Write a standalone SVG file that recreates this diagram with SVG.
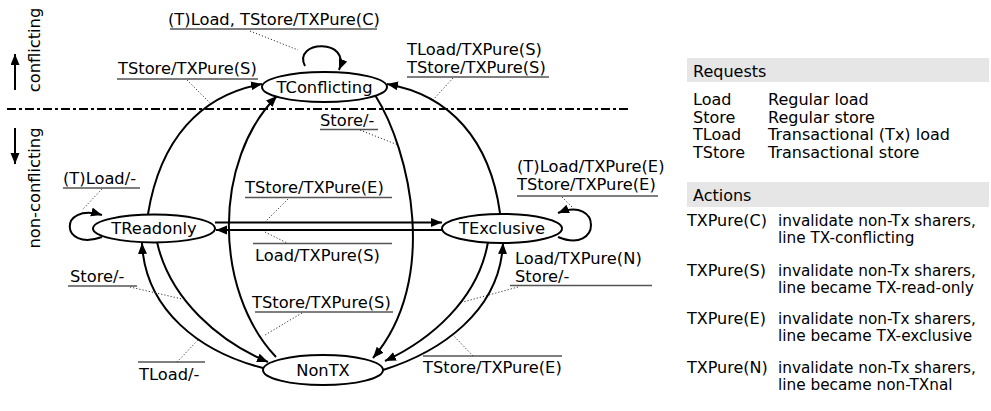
<svg xmlns="http://www.w3.org/2000/svg" width="991" height="411" viewBox="0 0 991 411">
<defs>
<marker id="ah" markerUnits="userSpaceOnUse" markerWidth="12" markerHeight="10" refX="11" refY="4.5" orient="auto">
<path d="M0,0 L11,4.5 L0,9 z" fill="#000"/>
</marker>
<style>
text{font-family:"DejaVu Sans","Liberation Sans",sans-serif;font-size:16.3px;fill:#000}
.node ellipse{fill:#fff;stroke:#000;stroke-width:2}
.node text{text-anchor:middle}
.edge{fill:none;stroke:#000;stroke-width:2;marker-end:url(#ah)}
.ul{stroke:#555;stroke-width:1.5}
.ld{stroke:#333;stroke-width:1;stroke-dasharray:1.2,2;fill:none}
.band{fill:#e6e6e6}
#legend text{font-size:16px}
#legend text.d{font-size:15.3px}
</style>
</defs>
<rect width="991" height="411" fill="#fff"/>

<g id="side">
<line x1="7" y1="109" x2="628" y2="109" stroke="#000" stroke-width="2" stroke-dasharray="9,3,3,3"/>
<text transform="translate(40,50) rotate(-90)" text-anchor="middle">conflicting</text>
<text transform="translate(40,188) rotate(-90)" text-anchor="middle">non-conflicting</text>
<line x1="15" y1="90" x2="15" y2="54" stroke="#000" stroke-width="2" marker-end="url(#ah)"/>
<line x1="15" y1="128" x2="15" y2="164" stroke="#000" stroke-width="2" marker-end="url(#ah)"/>
</g>

<g id="connectors">
<path class="edge" d="M305,66 C292,40 352,38 339,70"/>
<path class="edge" d="M148,214 C160,140 200,95 262,84"/>
<path class="edge" d="M276,357 C213,290 213,160 277,96"/>
<path class="edge" d="M375,95 C410,150 440,280 373,358"/>
<path class="edge" d="M500,213 C490,140 450,95 387,84"/>
<path class="edge" d="M157,242 C170,300 220,342 268,362"/>
<path class="edge" d="M263,368 C200,352 145,310 142,243"/>
<path class="edge" d="M488,242 C478,300 430,340 385,361"/>
<path class="edge" d="M383,370 C440,352 500,312 503,243"/>
<path class="edge" d="M215,222.5 L442,222.5"/>
<path class="edge" d="M442,230 L216,230"/>
<path class="edge" d="M102,237 C60,252 58,202 102,215"/>
<path class="edge" d="M558,237 C602,255 602,195 558,213"/>
</g>

<g id="labels">
<text x="168" y="25">(T)Load, TStore/TXPure(C)</text>
<line class="ul" x1="170" y1="29" x2="377" y2="29"/>
<line class="ld" x1="250" y1="31" x2="298" y2="50"/>

<text x="118" y="74">TStore/TXPure(S)</text>
<line class="ul" x1="117" y1="79" x2="258" y2="79"/>
<line class="ld" x1="187" y1="80" x2="210" y2="103"/>

<text x="407" y="55">TLoad/TXPure(S)</text>
<text x="407" y="73">TStore/TXPure(S)</text>
<line class="ul" x1="407" y1="77" x2="549" y2="77"/>
<line class="ld" x1="453" y1="78" x2="433" y2="100"/>

<text x="320" y="126">Store/-</text>
<line class="ul" x1="320" y1="129.5" x2="378" y2="129.5"/>
<line class="ld" x1="360" y1="130" x2="398" y2="145"/>

<text x="63" y="184">(T)Load/-</text>
<line class="ul" x1="63" y1="188" x2="140" y2="188"/>
<line class="ld" x1="102" y1="189" x2="82" y2="210"/>

<text x="245" y="193">TStore/TXPure(E)</text>
<line class="ul" x1="245" y1="197.5" x2="392" y2="197.5"/>
<line class="ld" x1="288" y1="199" x2="265" y2="222"/>

<text x="255" y="261">Load/TXPure(S)</text>
<line class="ul" x1="253" y1="243.5" x2="392" y2="243.5"/>
<line class="ld" x1="265" y1="232" x2="287" y2="243"/>

<text x="517" y="172">(T)Load/TXPure(E)</text>
<text x="517" y="190">TStore/TXPure(E)</text>
<line class="ul" x1="517" y1="196" x2="658" y2="196"/>
<line class="ld" x1="562" y1="197" x2="573" y2="208"/>

<text x="515" y="264">Load/TXPure(N)</text>
<text x="515" y="282">Store/-</text>
<line class="ul" x1="510" y1="285.5" x2="652" y2="285.5"/>
<line class="ld" x1="518" y1="287" x2="463" y2="302"/>

<text x="70" y="282">Store/-</text>
<line class="ul" x1="68" y1="286" x2="137" y2="286"/>
<line class="ld" x1="130" y1="287" x2="182" y2="299"/>

<text x="139" y="380">TLoad/-</text>
<line class="ul" x1="138" y1="362" x2="205" y2="362"/>
<line class="ld" x1="177" y1="362" x2="198" y2="340"/>

<text x="252" y="308">TStore/TXPure(S)</text>
<line class="ul" x1="255" y1="312" x2="393" y2="312"/>
<line class="ld" x1="302" y1="313" x2="265" y2="335"/>

<text x="423" y="373">TStore/TXPure(E)</text>
<line class="ul" x1="423" y1="356" x2="562" y2="356"/>
<line class="ld" x1="473" y1="356" x2="453" y2="335"/>
</g>

<g id="n-tconflicting" class="node"><ellipse cx="324.5" cy="87" rx="62.5" ry="15"/><text x="324.5" y="93">TConflicting</text></g>
<g id="n-treadonly" class="node"><ellipse cx="154" cy="228.5" rx="61" ry="14"/><text x="154" y="234">TReadonly</text></g>
<g id="n-texclusive" class="node"><ellipse cx="502" cy="228.5" rx="60" ry="14.5"/><text x="502" y="234">TExclusive</text></g>
<g id="n-nontx" class="node"><ellipse cx="323" cy="370" rx="60" ry="15"/><text x="323" y="376">NonTX</text></g>

<g id="legend">
<rect class="band" x="687" y="58" width="302" height="24"/>
<text x="693" y="77">Requests</text>
<text x="693" y="105">Load</text><text x="768" y="105">Regular load</text>
<text x="693" y="122.5">Store</text><text x="768" y="122.5">Regular store</text>
<text x="693" y="140">TLoad</text><text x="768" y="140">Transactional (Tx) load</text>
<text x="693" y="157.5">TStore</text><text x="768" y="157.5">Transactional store</text>
<rect class="band" x="687" y="182" width="302" height="25"/>
<text x="693" y="201">Actions</text>
<text x="687" y="226">TXPure(C)</text><text class="d" x="778" y="225.5">invalidate non-Tx sharers,</text><text class="d" x="778" y="242.5">line TX-conflicting</text>
<text x="687" y="276">TXPure(S)</text><text class="d" x="778" y="275.5">invalidate non-Tx sharers,</text><text class="d" x="778" y="292.5">line became TX-read-only</text>
<text x="687" y="324">TXPure(E)</text><text class="d" x="778" y="323.5">invalidate non-Tx sharers,</text><text class="d" x="778" y="340.5">line became TX-exclusive</text>
<text x="687" y="373">TXPure(N)</text><text class="d" x="778" y="372.5">invalidate non-Tx sharers,</text><text class="d" x="778" y="389.5">line became non-TXnal</text>
</g>
</svg>
